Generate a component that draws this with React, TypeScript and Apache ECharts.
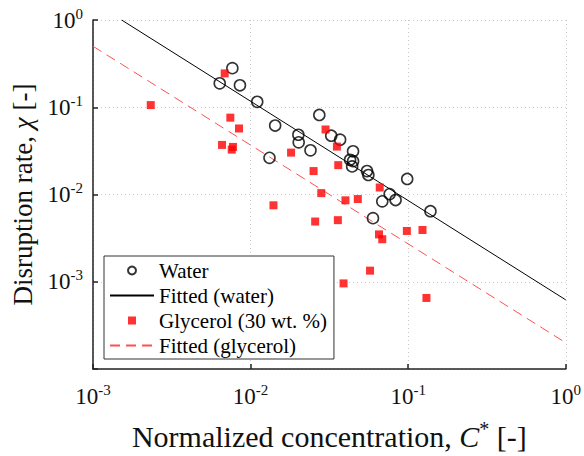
import React, { useEffect, useRef } from "react";
import * as echarts from "echarts";

const waterX = [0.00766, 0.00637, 0.00856, 0.01102, 0.01432, 0.0273, 0.0201, 0.0202, 0.024, 0.01318, 0.0325, 0.037, 0.0447, 0.0428, 0.0447, 0.0441, 0.0548, 0.0559, 0.0986, 0.0763, 0.0685, 0.0832, 0.0598, 0.1385];
const waterY = [0.2805, 0.188, 0.1786, 0.1154, 0.0617, 0.0816, 0.0484, 0.0396, 0.0321, 0.0263, 0.0472, 0.0425, 0.0313, 0.025, 0.0241, 0.021, 0.01856, 0.01673, 0.01507, 0.0101, 0.00835, 0.00864, 0.00536, 0.00643];

const glyX = [0.00685, 0.002325, 0.00744, 0.00844, 0.00659, 0.00773, 0.00759, 0.01807, 0.0251, 0.0299, 0.0353, 0.036, 0.0281, 0.04, 0.0479, 0.066, 0.01397, 0.0257, 0.0358, 0.0653, 0.0685, 0.0981, 0.1233, 0.0573, 0.0389, 0.1306];
const glyY = [0.2443, 0.1059, 0.076, 0.0571, 0.037, 0.0351, 0.0327, 0.0302, 0.01856, 0.0556, 0.0354, 0.0217, 0.01037, 0.00857, 0.00887, 0.01203, 0.00752, 0.0049, 0.00508, 0.00349, 0.00307, 0.00382, 0.00392, 0.00134, 0.000957, 0.000652];

const fitWaterX = [0.00152, 1];
const fitWaterY = [1, 0.00062];
const fitGlyX = [0.001, 1];
const fitGlyY = [0.5, 0.0002];

const seriesNames = ["Water", "Fitted (water)", "Glycerol (30 wt. %)", "Fitted (glycerol)"];

const FONT = "Liberation Serif";

const zip = (xs: number[], ys: number[]) => xs.map((x, i) => [x, ys[i]]);

const powLabel = (v: number) => {
  const e = Math.round(Math.log10(v));
  return `{b|10}{s|${e}}`;
};

const richTick = {
  b: { fontFamily: FONT, fontSize: 23, lineHeight: 28, color: "#111" },
  s: { fontFamily: FONT, fontSize: 15, lineHeight: 15, verticalAlign: "top", color: "#111" },
};

export default function App() {
  const ref = useRef<HTMLDivElement>(null);
  useEffect(() => {
    if (!ref.current) return;
    const chart = echarts.init(ref.current, undefined, { renderer: "svg" });
    chart.setOption({
      animation: false,
      backgroundColor: "#fff",
      grid: { left: 93, right: 16, top: 20, bottom: 84 },
      legend: {
        orient: "vertical",
        left: 104,
        top: 256,
        padding: [4, 7, 3, 5],
        itemGap: 4,
        itemWidth: 44,
        itemHeight: 8,
        borderColor: "#333",
        borderWidth: 1,
        backgroundColor: "#fff",
        data: [
          { name: seriesNames[0] },
          { name: seriesNames[1], itemStyle: { opacity: 0 } },
          { name: seriesNames[2], icon: "path://M0 0H10V10H0Z" },
          { name: seriesNames[3], itemStyle: { opacity: 0 } },
        ],
        textStyle: { fontFamily: FONT, fontSize: 21, color: "#000" },
      },
      xAxis: {
        type: "log",
        logBase: 10,
        min: 0.001,
        max: 1,
        name: "{a|Normalized concentration, }{i|C}{s|*}{a| [-]}",
        nameLocation: "middle",
        nameGap: 50,
        nameTextStyle: {
          rich: {
            a: { fontFamily: FONT, fontSize: 30, lineHeight: 34, color: "#111" },
            i: { fontFamily: FONT, fontSize: 30, lineHeight: 34, fontStyle: "italic", color: "#111" },
            s: { fontFamily: FONT, fontSize: 20, lineHeight: 20, verticalAlign: "top", color: "#111" },
          },
        },
        axisLine: { show: true, onZero: false, lineStyle: { color: "#222", width: 1.5 } },
        axisTick: { show: true, inside: true, length: 5, lineStyle: { color: "#222", width: 1.5 } },
        minorTick: { show: false },
        splitLine: { show: true, lineStyle: { color: "#c8c8c8", type: [1, 3], width: 1 } },
        axisLabel: { margin: 13, formatter: powLabel, rich: richTick },
      },
      yAxis: {
        type: "log",
        logBase: 10,
        min: 0.0001,
        max: 1,
        name: "{a|Disruption rate, }{i|χ}{a| [-]}",
        nameLocation: "middle",
        nameGap: 52,
        nameRotate: 90,
        nameTextStyle: {
          rich: {
            a: { fontFamily: FONT, fontSize: 27, lineHeight: 32, color: "#111" },
            i: { fontFamily: FONT, fontSize: 27, lineHeight: 32, fontStyle: "italic", color: "#111" },
          },
        },
        axisLine: { show: true, onZero: false, lineStyle: { color: "#222", width: 1.5 } },
        axisTick: { show: true, inside: true, length: 5, lineStyle: { color: "#222", width: 1.5 } },
        splitLine: { show: true, lineStyle: { color: "#c8c8c8", type: [1, 3], width: 1 } },
        axisLabel: {
          margin: 10,
          formatter: (v: number) => (v < 0.0005 ? "" : powLabel(v)),
          rich: richTick,
        },
      },
      series: [
        {
          name: seriesNames[0],
          type: "scatter",
          symbol: "circle",
          symbolSize: 11,
          itemStyle: { color: "rgba(255,255,255,0)", borderColor: "#000", borderWidth: 1.6 },
          data: zip(waterX, waterY),
          z: 3,
        },
        {
          name: seriesNames[1],
          type: "line",
          showSymbol: false,
          symbol: "none",
          lineStyle: { color: "#000", width: 1 },
          itemStyle: { color: "#000" },
          data: zip(fitWaterX, fitWaterY),
          z: 2,
        },
        {
          name: seriesNames[2],
          type: "scatter",
          symbol: "rect",
          symbolSize: 8,
          itemStyle: { color: "#ff0000" },
          data: zip(glyX, glyY),
          z: 4,
        },
        {
          name: seriesNames[3],
          type: "line",
          showSymbol: false,
          symbol: "none",
          lineStyle: { color: "#ff5050", width: 1, type: [10, 6] },
          itemStyle: { color: "#ff5050" },
          data: zip(fitGlyX, fitGlyY),
          z: 2,
        },
      ],
    });
    return () => chart.dispose();
  }, []);
  return (
    <div
      ref={ref}
      style={{ position: "fixed", left: 0, top: 0, width: 584, height: 456, background: "#fff" }}
    />
  );
}
